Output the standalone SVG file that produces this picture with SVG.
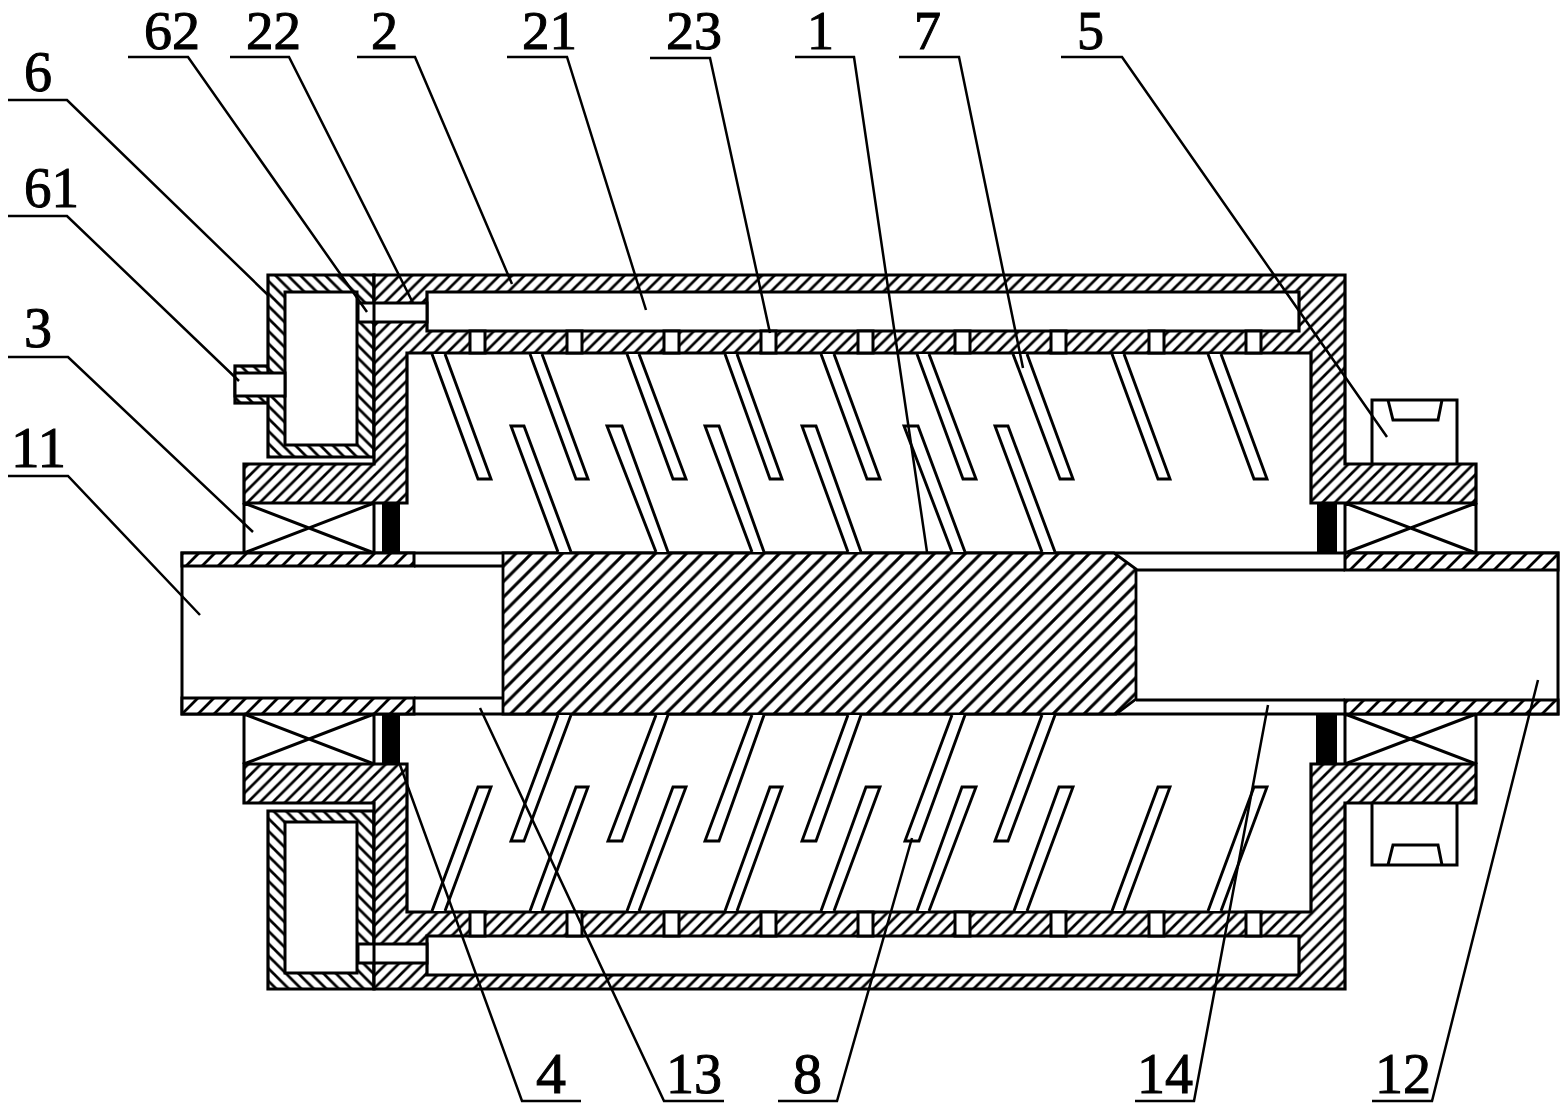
<svg xmlns="http://www.w3.org/2000/svg" width="1567" height="1111" viewBox="0 0 1567 1111">
<style>
.o{stroke:#000;stroke-width:3;stroke-linejoin:miter;fill:none}
.w{stroke:#000;stroke-width:3;fill:#fff}
.a{fill:url(#ha);stroke:#000;stroke-width:3.2;fill-rule:evenodd}
.b{fill:url(#hb);stroke:#000;stroke-width:3.2;fill-rule:evenodd}
.c{fill:url(#hc);stroke:#000;stroke-width:2.8}
.s{fill:url(#hs);stroke:#000;stroke-width:3}
.t{fill:#fff;stroke:#000;stroke-width:2.9}
.k{fill:#000}
.l{stroke:#000;stroke-width:2.5;fill:none}
text{font-family:"Liberation Serif","Times New Roman",serif;font-size:58px;fill:#000;stroke:#000;stroke-width:1}
text.top{font-size:55px}
</style>
<defs>
<pattern id="ha" patternUnits="userSpaceOnUse" width="12.5" height="12.5"><rect width="12.5" height="12.5" fill="#fff"/><path d="M-2,2 L2,-2 M-2,14.5 L14.5,-2 M10.5,14.5 L14.5,10.5" stroke="#000" stroke-width="2.7"/></pattern>
<pattern id="hb" patternUnits="userSpaceOnUse" width="12.5" height="12.5"><rect width="12.5" height="12.5" fill="#fff"/><path d="M-2,10.5 L2,14.5 M-2,-2 L14.5,14.5 M10.5,-2 L14.5,2" stroke="#000" stroke-width="2.7"/></pattern>
<pattern id="hc" patternUnits="userSpaceOnUse" width="15.5" height="15.5"><rect width="15.5" height="15.5" fill="#fff"/><path d="M-2,2 L2,-2 M-2,17.500 L17.500,-2 M13.500,17.500 L17.500,13.500" stroke="#000" stroke-width="3"/></pattern>
<pattern id="hs" patternUnits="userSpaceOnUse" width="16" height="16"><rect width="16" height="16" fill="#fff"/><path d="M-2,2 L2,-2 M-2,18 L18,-2 M14,18 L18,14" stroke="#000" stroke-width="2.8"/></pattern>
</defs>
<rect width="1567" height="1111" fill="#fff"/>

<g id="shaft">
<rect class="w" x="182" y="553" width="1376" height="161"/>
<rect class="s" x="182" y="553" width="232" height="13"/>
<rect class="s" x="182" y="698" width="232" height="16"/>
<rect class="s" x="1345" y="553" width="213" height="17"/>
<rect class="s" x="1345" y="700" width="213" height="14"/>
<path class="o" d="M414,566H503M414,698H503M1136,570H1345M1136,700H1345"/>
<path class="c" d="M503,553H1114L1136,569V699L1116,714H503Z"/>
</g>

<g id="bearings">
<path class="o" d="M244,503V553M374,503V553M244,503L374,553M244,553L374,503"/>
<path class="o" d="M1345,503V553M1476,503V553M1345,503L1476,553M1345,553L1476,503"/>
<path class="o" d="M244,714V764M374,714V764M244,714L374,764M244,764L374,714"/>
<path class="o" d="M1345,714V764M1476,714V764M1345,714L1476,764M1345,764L1476,714"/>
</g>

<g id="seals">
<rect class="k" x="382" y="503" width="18" height="50"/>
<rect class="k" x="382" y="714" width="18" height="50"/>
<rect class="k" x="1317" y="503" width="20" height="50"/>
<rect class="k" x="1316" y="714" width="21" height="50"/>
</g>

<g id="pulleys">
<path class="w" d="M1372,464V400H1457V464"/>
<path class="o" d="M1388,400L1393,420H1438L1442,400"/>
<path class="w" d="M1372,803V865H1457V803"/>
<path class="o" d="M1388,865L1393,845H1438L1442,865"/>
</g>

<g id="jackets">
<rect class="b" x="235" y="366" width="50" height="37"/>
<path class="b" d="M268,275H374V457H268Z"/>
<rect class="w" x="285" y="292" width="72" height="153"/>
<rect class="w" x="235" y="373" width="50" height="23"/>
<path class="b" d="M268,811H374V989H268Z"/>
<rect class="w" x="285" y="822" width="72" height="151"/>
</g>

<g id="drum">
<path class="a" d="M374,275H1345V464H1476V503H1311V353H407V503H244V464H374ZM427,292H1299V331H427Z"/>
<path class="a" d="M244,764H407V912H1311V764H1476V803H1345V989H374V803H244ZM427,936H1299V975H427Z"/>
<path class="w" d="M427,303H358V322H427ZM374,303V322"/>
<path class="w" d="M427,944H358V963H427ZM374,944V963"/>
<g id="slots">
<path class="w" d="M470,331V353H485V331Z M567,331V353H582V331Z M664,331V353H679V331Z M761,331V353H776V331Z M858,331V353H873V331Z M955,331V353H970V331Z M1051,331V353H1066V331Z M1149,331V353H1164V331Z M1246,331V353H1261V331Z"/>
<path class="w" d="M470,912V936H485V912Z M567,912V936H582V912Z M664,912V936H679V912Z M761,912V936H776V912Z M858,912V936H873V912Z M955,912V936H970V912Z M1051,912V936H1066V912Z M1149,912V936H1164V912Z M1246,912V936H1261V912Z"/>
</g>
</g>

<g id="blades">
<path class="t" d="M432,354L478,479H491L445,354"/>
<path class="t" d="M530,354L576,479H588L542,354"/>
<path class="t" d="M627,354L673,479H686L639,354"/>
<path class="t" d="M725,354L770,479H782L737,354"/>
<path class="t" d="M821,354L867,479H880L834,354"/>
<path class="t" d="M917,354L963,479H976L929,354"/>
<path class="t" d="M1013,354L1060,479H1073L1027,354"/>
<path class="t" d="M1112,354L1158,479H1170L1124,354"/>
<path class="t" d="M1208,354L1254,479H1267L1221,354"/>
<path class="t" d="M558,552L511,426H524L571,552"/>
<path class="t" d="M656,552L607,426H622L668,552"/>
<path class="t" d="M752,552L705,426H719L764,552"/>
<path class="t" d="M848,552L802,426H816L861,552"/>
<path class="t" d="M952,552L904,426H918L965,552"/>
<path class="t" d="M1042,552L995,426H1008L1055,552"/>
<path class="t" d="M558,715L511,841H524L571,715"/>
<path class="t" d="M656,715L608,841H622L668,715"/>
<path class="t" d="M752,715L705,841H719L764,715"/>
<path class="t" d="M848,715L802,841H816L861,715"/>
<path class="t" d="M952,715L905,841H919L965,715"/>
<path class="t" d="M1042,715L995,841H1008L1055,715"/>
<path class="t" d="M432,911L478,787H491L445,911"/>
<path class="t" d="M530,911L576,787H588L542,911"/>
<path class="t" d="M627,911L673,787H686L639,911"/>
<path class="t" d="M725,911L770,787H782L737,911"/>
<path class="t" d="M821,911L866,787H880L834,911"/>
<path class="t" d="M917,911L962,787H976L929,911"/>
<path class="t" d="M1014,911L1059,787H1073L1027,911"/>
<path class="t" d="M1112,911L1158,787H1170L1124,911"/>
<path class="t" d="M1208,911L1254,787H1267L1221,911"/>
</g>

<g id="connectors">
<path class="l" d="M8,100H67L268,295"/>
<path class="l" d="M8,216H67L239,381"/>
<path class="l" d="M8,357H68L253,532"/>
<path class="l" d="M8,476H68L200,615"/>
<path class="l" d="M128,57H188L367,312"/>
<path class="l" d="M230,57H289L413,303"/>
<path class="l" d="M357,57H415L512,284"/>
<path class="l" d="M507,57H567L646,310"/>
<path class="l" d="M650,58H710L770,333"/>
<path class="l" d="M795,57H854L927,552"/>
<path class="l" d="M899,57H959L1023,368"/>
<path class="l" d="M1061,57H1122L1387,437"/>
<path class="l" d="M581,1101H522L400,765"/>
<path class="l" d="M724,1101H664L480,708"/>
<path class="l" d="M778,1101H837L912,838"/>
<path class="l" d="M1135,1101H1194L1268,705"/>
<path class="l" d="M1372,1101H1432L1538,680"/>
</g>

<g id="labels">
<text class="top" x="144" y="49" textLength="56" lengthAdjust="spacingAndGlyphs">62</text>
<text class="top" x="246" y="49" textLength="55" lengthAdjust="spacingAndGlyphs">22</text>
<text class="top" x="371" y="49" textLength="27" lengthAdjust="spacingAndGlyphs">2</text>
<text class="top" x="522" y="49" textLength="55" lengthAdjust="spacingAndGlyphs">21</text>
<text class="top" x="666" y="49" textLength="56" lengthAdjust="spacingAndGlyphs">23</text>
<text class="top" x="807" y="49" textLength="27" lengthAdjust="spacingAndGlyphs">1</text>
<text class="top" x="914" y="49" textLength="27" lengthAdjust="spacingAndGlyphs">7</text>
<text class="top" x="1077" y="49" textLength="27" lengthAdjust="spacingAndGlyphs">5</text>
<text x="24" y="91" textLength="28" lengthAdjust="spacingAndGlyphs">6</text>
<text x="24" y="207" textLength="55" lengthAdjust="spacingAndGlyphs">61</text>
<text x="24" y="347" textLength="28" lengthAdjust="spacingAndGlyphs">3</text>
<text x="11" y="467" textLength="55" lengthAdjust="spacingAndGlyphs">11</text>
<text x="536" y="1093" textLength="30" lengthAdjust="spacingAndGlyphs">4</text>
<text x="666" y="1093" textLength="56" lengthAdjust="spacingAndGlyphs">13</text>
<text x="793" y="1093" textLength="29" lengthAdjust="spacingAndGlyphs">8</text>
<text x="1137" y="1093" textLength="56" lengthAdjust="spacingAndGlyphs">14</text>
<text x="1375" y="1093" textLength="56" lengthAdjust="spacingAndGlyphs">12</text>
</g>
</svg>
